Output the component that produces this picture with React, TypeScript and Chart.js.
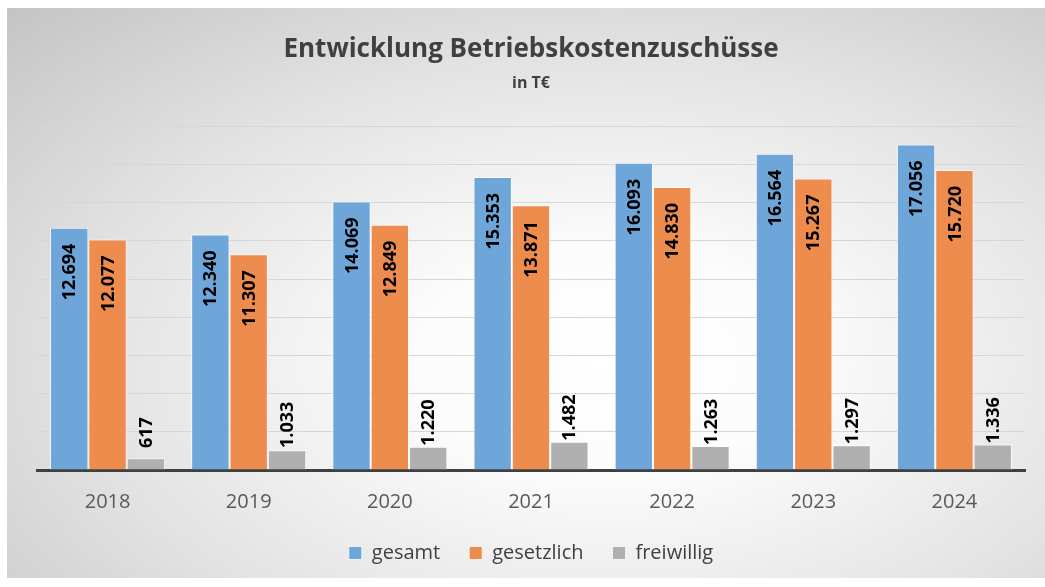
import React, { useEffect, useRef } from "react";
import { Chart, registerables } from "chart.js";

Chart.register(...registerables);

const years = ["2018", "2019", "2020", "2021", "2022", "2023", "2024"];
const gesamt = [12694, 12340, 14069, 15353, 16093, 16564, 17056];
const gesetzlich = [12077, 11307, 12849, 13871, 14830, 15267, 15720];
const freiwillig = [617, 1033, 1220, 1482, 1263, 1297, 1336];
const seriesNames = ["gesamt", "gesetzlich", "freiwillig"];
const seriesColors = ["#6FA6DA", "#EE8C4D", "#B0B0B0"];
const titleText = "Entwicklung Betriebskostenzuschüsse";
const subtitleText = "in T€";

const FONT = "'Open Sans', 'DejaVu Sans', sans-serif";

const fmt = (v: number) => String(v).replace(/\B(?=(\d{3})+(?!\d))/g, ".");

const labelPlugin = {
  id: "barLabels",
  afterDatasetsDraw(chart: any) {
    const ctx = chart.ctx;
    const yScale = chart.scales.y;
    const zeroY = yScale.getPixelForValue(0);
    ctx.save();
    ctx.font = `bold 18px ${FONT}`;
    ctx.fillStyle = "#000000";
    ctx.textBaseline = "middle";
    chart.data.datasets.forEach((ds: any, di: number) => {
      const meta = chart.getDatasetMeta(di);
      meta.data.forEach((bar: any, i: number) => {
        const text = fmt(ds.data[i]);
        ctx.save();
        if (di < 2) {
          ctx.translate(bar.x, bar.y + 16);
          ctx.rotate(-Math.PI / 2);
          ctx.textAlign = "right";
        } else {
          ctx.translate(bar.x, Math.min(bar.y - 1, zeroY - 22));
          ctx.rotate(-Math.PI / 2);
          ctx.textAlign = "left";
        }
        ctx.fillText(text, 0, 1);
        ctx.restore();
      });
    });
    ctx.restore();
  },
};

export default function App() {
  const ref = useRef<HTMLCanvasElement | null>(null);
  useEffect(() => {
    if (!ref.current) return;
    const seriesData = [gesamt, gesetzlich, freiwillig];
    const chart = new Chart(ref.current, {
      type: "bar",
      data: {
        labels: years,
        datasets: seriesData.map((d, k) => ({
          label: seriesNames[k],
          data: d,
          backgroundColor: seriesColors[k],
          borderColor: "rgba(255,255,255,0.75)",
          borderWidth: 1,
          categoryPercentage: 0.815,
          barPercentage: 1.0,
        })),
      },
      options: {
        animation: false,
        responsive: false,
        maintainAspectRatio: false,
        layout: { padding: { left: 30, right: 20, top: 0, bottom: 5 } },
        plugins: {
          tooltip: { enabled: false },
          title: {
            display: true,
            text: titleText,
            color: "#404040",
            font: { family: FONT, size: 26, weight: "bold" },
            padding: { top: 26, bottom: 3 },
          },
          subtitle: {
            display: true,
            text: subtitleText,
            color: "#404040",
            font: { family: FONT, size: 16, weight: "bold" },
            padding: { top: 6, bottom: 33 },
          },
          legend: {
            display: true,
            position: "bottom",
            labels: {
              color: "#404040",
              font: { family: FONT, size: 20 },
              boxWidth: 13,
              boxHeight: 13,
              padding: 29,
            },
          },
        },
        scales: {
          x: {
            grid: { display: false, drawTicks: false },
            border: { display: true, color: "#404040", width: 3 },
            ticks: {
              color: "#595959",
              font: { family: FONT, size: 20 },
              padding: 20,
            },
            afterFit: (s: any) => {
              s.height = s.height - 20;
            },
          },
          y: {
            min: 0,
            max: 18000,
            ticks: { display: false, stepSize: 2000 },
            grid: { color: "#d6d6d6", lineWidth: 1, drawTicks: false },
            border: { display: false },
          },
        },
      },
      plugins: [labelPlugin],
    });
    return () => chart.destroy();
  }, []);

  return (
    <div
      style={{
        position: "absolute",
        left: 7,
        top: 8,
        width: 1038,
        height: 570,
        background:
          "radial-gradient(ellipse farthest-corner at 58% 62%, #ffffff 0%, #fcfcfc 22%, #e2e2e2 62%, #c4c4c4 100%)",
      }}
    >
      <canvas ref={ref} width={1038} height={570} style={{ display: "block" }} />
    </div>
  );
}
